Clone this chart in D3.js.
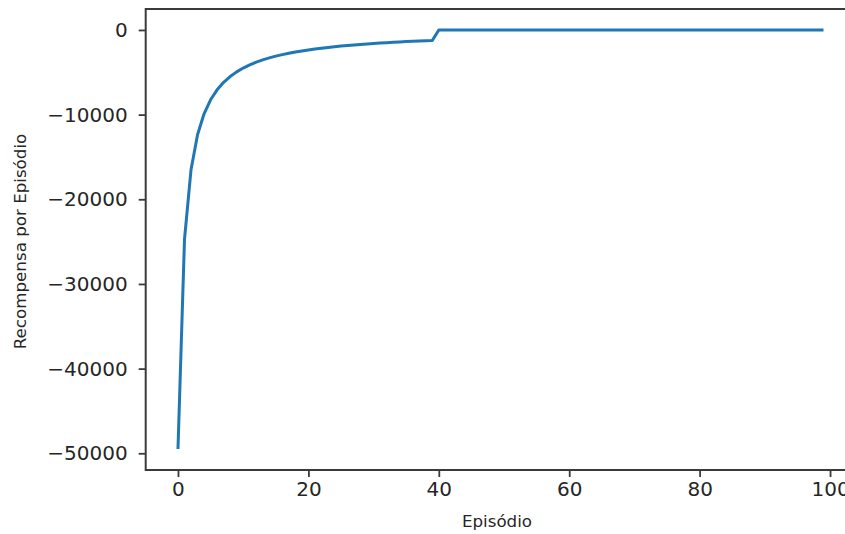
<!DOCTYPE html>
<html lang="en">
  <head>
    <meta charset="UTF-8" />
    <title>Recompensa por Episódio</title>
    <script src="https://d3js.org/d3.v7.min.js"></script>
    <style>
      body {
        margin: 0;
        background-color: white;
      }
      svg {
        display: block;
        font-family: "DejaVu Sans", sans-serif;
      }
      .tick text {
        fill: #262626;
      }
      .axis-label {
        fill: #262626;
      }
    </style>
  </head>
  <body>
    <svg id="chart" width="845" height="534"></svg>
    <script>
      // reward per episode
      const episodes = d3.range(0, 100);
      const earlyRewards = [
        -49500, -24750, -16500, -12375, -9900, -8250, -7071, -6188, -5500, -4950,
        -4500, -4125, -3808, -3536, -3300, -3094, -2912, -2750, -2605, -2475,
        -2357, -2250, -2152, -2063, -1980, -1904, -1833, -1768, -1707, -1650,
        -1597, -1547, -1500, -1456, -1414, -1375, -1338, -1303, -1269, -1238,
      ];
      const lateRewards = [
        0, 0, 0, 0, 0, 0, 0, 0, 0, 0, 0, 0, 0, 0, 0, 0, 0, 0, 0, 0,
        0, 0, 0, 0, 0, 0, 0, 0, 0, 0, 0, 0, 0, 0, 0, 0, 0, 0, 0, 0,
        0, 0, 0, 0, 0, 0, 0, 0, 0, 0, 0, 0, 0, 0, 0, 0, 0, 0, 0, 0,
      ];
      const rewards = earlyRewards.concat(lateRewards);
      const xTicks = [0, 20, 40, 60, 80, 100];
      const yTicks = [0, -10000, -20000, -30000, -40000, -50000];

      const svg = d3.select("#chart");
      // plot area (the right spine falls outside the 845px picture)
      const plot = { left: 145.7, right: 855.8, top: 9, bottom: 470 };

      const x = d3.scaleLinear().domain([-4.95, 103.95]).range([plot.left, plot.right]);
      const y = d3.scaleLinear().domain([-51975, 2475]).range([plot.bottom, plot.top]);

      const minus = (v) => String(v).replace("-", "\u2212");

      // x axis
      const xAxis = svg
        .append("g")
        .attr("transform", `translate(0,${plot.bottom})`)
        .call(d3.axisBottom(x).tickValues(xTicks).tickSize(7).tickPadding(5).tickFormat((d) => d));
      // y axis
      const yAxis = svg
        .append("g")
        .attr("transform", `translate(${plot.left},0)`)
        .call(d3.axisLeft(y).tickValues(yTicks).tickSize(7).tickPadding(11).tickFormat(minus));

      [xAxis, yAxis].forEach((g) => {
        g.attr("font-family", "DejaVu Sans").attr("font-size", 20);
        g.select(".domain").remove();
        g.selectAll(".tick line").attr("stroke", "#3a3a3a").attr("stroke-width", 1.8);
      });

      // frame
      svg
        .append("rect")
        .attr("x", plot.left)
        .attr("y", plot.top)
        .attr("width", plot.right - plot.left)
        .attr("height", plot.bottom - plot.top)
        .attr("fill", "none")
        .attr("stroke", "#3a3a3a")
        .attr("stroke-width", 2);

      // line
      const line = d3
        .line()
        .x((d, i) => x(episodes[i]))
        .y((d) => y(d));

      svg
        .append("path")
        .datum(rewards)
        .attr("fill", "none")
        .attr("stroke", "#1f77b4")
        .attr("stroke-width", 3)
        .attr("stroke-linejoin", "round")
        .attr("stroke-linecap", "butt")
        .attr("d", line);

      // axis labels
      svg
        .append("text")
        .attr("class", "axis-label")
        .attr("x", 497)
        .attr("y", 527)
        .attr("text-anchor", "middle")
        .attr("font-size", 16.7)
        .text("Episódio");

      svg
        .append("text")
        .attr("class", "axis-label")
        .attr("transform", `translate(26,${(plot.top + plot.bottom) / 2 + 2}) rotate(-90)`)
        .attr("text-anchor", "middle")
        .attr("font-size", 16.7)
        .text("Recompensa por Episódio");
    </script>
  </body>
</html>
